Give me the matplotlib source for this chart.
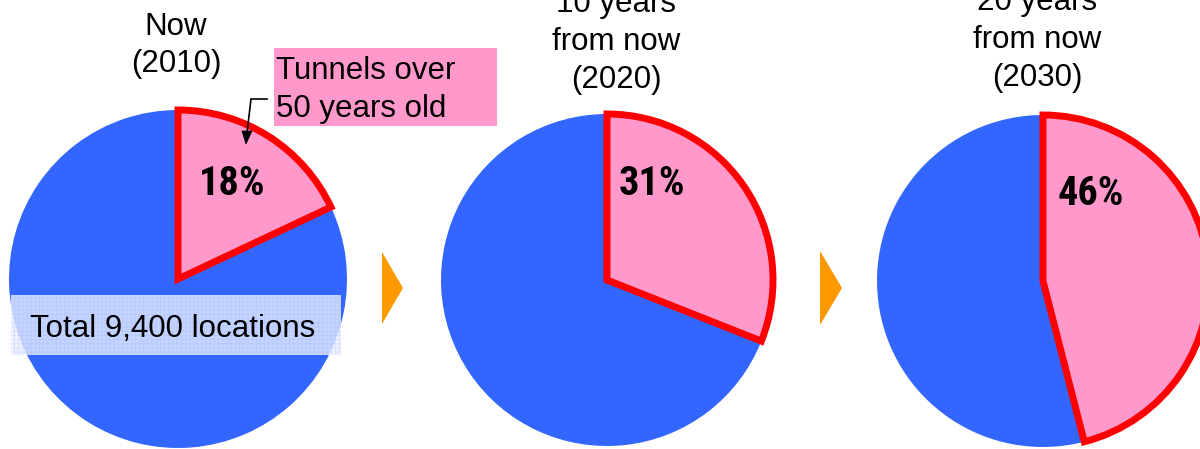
import matplotlib
matplotlib.use("Agg")
import matplotlib.pyplot as plt
from matplotlib.patches import Rectangle, Polygon
from matplotlib import font_manager
from matplotlib.font_manager import FontProperties

# ---- data ----
periods = [["Now", "(2010)"],
           ["10 years", "from now", "(2020)"],
           ["20 years", "from now", "(2030)"]]
old_share = [18, 31, 46]          # % of tunnels over 50 years old
pct_labels = ["18%", "31%", "46%"]
callout_lines = ["Tunnels over", "50 years old"]
total_label = "Total 9,400 locations"

# ---- style / layout ----
W, H = 1200, 449
BLUE = "#3366FF"
PINK = "#FF99CC"
RED = "#FF0000"
ORANGE = "#FF9900"

def Y(y):
    return H - y

FONT = ["Liberation Sans", "DejaVu Sans"]

# look for a narrow bold face (preferred order)
cond_file = None
cands = {}
for f in font_manager.fontManager.ttflist:
    fn = f.fname.lower().split("/")[-1]
    if "italic" in fn or "oblique" in fn:
        continue
    if fn.startswith("robotocondensed-bold"):
        cands["roboto"] = f.fname
    elif "sansnarrow-bold" in fn and "liberation" in fn:
        cands["libnarrow"] = f.fname
for key in ("libnarrow", "roboto"):
    if key in cands:
        cond_file = cands[key]
        break
if cond_file:
    PCT_PROPS = dict(fontproperties=FontProperties(fname=cond_file, size=29))
else:
    PCT_PROPS = dict(fontsize=27, fontweight="bold", family=FONT)

fig = plt.figure(figsize=(W / 100, H / 100), dpi=100)
ax = fig.add_axes([0, 0, 1, 1])

centers = [(178, 279), (607, 280), (1043, 281)]
radii = [169, 166, 166]
title_x = [176, 616, 1037]
title_base = [[35, 72], [12, 50, 88], [10, 48, 86]]
pct_pos = [(232, 195), (652, 195), (1091, 205)]

FS = 22.5
for i, share in enumerate(old_share):
    cx, cy = centers[i]
    wedges, _ = ax.pie([share, 100 - share], colors=[PINK, BLUE],
                       startangle=90, counterclock=False,
                       center=(cx, Y(cy)), radius=radii[i], frame=True)
    wedges[0].set_edgecolor(RED)
    wedges[0].set_linewidth(5)
    wedges[0].set_zorder(3)
    wedges[1].set_edgecolor("none")
    wedges[1].set_zorder(2)
    for line, yb in zip(periods[i], title_base[i]):
        ax.text(title_x[i], Y(yb), line, ha="center", va="baseline",
                fontsize=FS, family=FONT, color="black", zorder=6)
    px, py = pct_pos[i]
    ax.text(px, Y(py), pct_labels[i], ha="center", va="baseline",
            color="black", zorder=6, **PCT_PROPS)

# callout box
ax.add_patch(Rectangle((274, Y(126)), 497 - 274, 126 - 48,
                       facecolor=PINK, edgecolor="none", zorder=4))
for line, yb in zip(callout_lines, [79, 117]):
    ax.text(276, Y(yb), line, ha="left", va="baseline", fontsize=FS,
            family=FONT, color="black", zorder=6)
# elbow arrow
ax.plot([267, 251, 247], [Y(99), Y(99), Y(133)], color="black", lw=1.2,
        solid_joinstyle="miter", zorder=6)
ax.add_patch(Polygon([(242, Y(131)), (252, Y(131)), (246, Y(144))],
                     closed=True, facecolor="black", edgecolor="black",
                     lw=0.5, zorder=6))

# total box (semi-transparent dotted pattern)
plt.rcParams["hatch.linewidth"] = 0.5
ax.add_patch(Rectangle((11, Y(355)), 341 - 11, 355 - 295,
                       facecolor=(0.92, 0.94, 1.0, 0.8),
                       edgecolor="none", zorder=4))
ax.add_patch(Rectangle((11, Y(355)), 341 - 11, 355 - 295,
                       facecolor="none", edgecolor=(0.6, 0.7, 1.0, 0.35),
                       hatch="++++", lw=0, zorder=4))
ax.text(30, Y(337), total_label, ha="left", va="baseline", fontsize=FS,
        family=FONT, color="black", zorder=6)

# orange arrow heads
for pts in ([(382, 252), (403, 288), (382, 324)],
            [(820, 251), (842, 288), (820, 325)]):
    ax.add_patch(Polygon([(x, Y(y)) for x, y in pts], closed=True,
                         facecolor=ORANGE, edgecolor="none", zorder=4))

ax.set_xlim(0, W)
ax.set_ylim(0, H)
ax.set_aspect("equal")
ax.axis("off")

fig.savefig("out.png", dpi=100)
